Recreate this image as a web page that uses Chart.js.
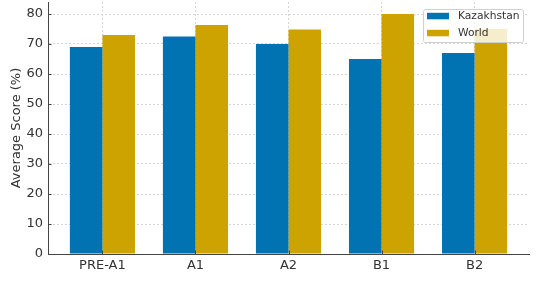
<!DOCTYPE html>
<html lang="en">
<head>
    <meta charset="UTF-8">
    <title>Average Score by Level</title>
    <script src="https://cdn.jsdelivr.net/npm/chart.js"></script>
    <style>
        html, body { margin: 0; padding: 0; background: #fff; }
        #wrap { width: 553px; height: 295px; }
    </style>
</head>
<body>
    <div id="wrap"><canvas id="scoreChart" width="553" height="295"></canvas></div>

    <script>
        // Data
        const levels = ['PRE-A1', 'A1', 'A2', 'B1', 'B2'];
        const kazakhstan = [69, 72.5, 70, 65, 67];
        const world = [73, 76.3, 74.8, 80, 75];
        const yTicks = [0, 10, 20, 30, 40, 50, 60, 70, 80];

        const FONT = 'DejaVu Sans';
        const BLUE = '#0173b2';
        const GOLD = '#cca300';

        // bars sit on a linear x scale so the side margins match the original
        function toPoints(values) {
            return values.map((v, i) => ({ x: i, y: v }));
        }

        // legend drawn inside the plot with a translucent box
        const innerLegend = {
            id: 'innerLegend',
            afterDatasetsDraw(chart) {
                const ctx = chart.ctx;
                const area = chart.chartArea;
                const boxW = 100, boxH = 33;
                const x0 = area.right - boxW - 6, y0 = area.top + 7;
                ctx.save();
                ctx.fillStyle = 'rgba(255,255,255,0.8)';
                ctx.strokeStyle = '#d0d0d0';
                ctx.lineWidth = 1;
                ctx.beginPath();
                ctx.roundRect(x0 + 0.5, y0 + 0.5, boxW, boxH, 2);
                ctx.fill();
                ctx.stroke();
                ctx.font = '10.7px "' + FONT + '"';
                ctx.textBaseline = 'middle';
                chart.data.datasets.forEach((ds, i) => {
                    const cy = y0 + 6.8 + i * 17;
                    ctx.fillStyle = ds.backgroundColor;
                    ctx.fillRect(x0 + 4, cy - 3, 22, 6.5);
                    ctx.fillStyle = '#333';
                    ctx.fillText(ds.label, x0 + 35, cy + 0.5);
                });
                ctx.restore();
            }
        };

        // small inward tick marks like the original axes
        const innerTicks = {
            id: 'innerTicks',
            afterDraw(chart) {
                const ctx = chart.ctx;
                const xs = chart.scales.x, ys = chart.scales.y;
                ctx.save();
                ctx.strokeStyle = '#444';
                ctx.lineWidth = 1;
                ctx.beginPath();
                xs.ticks.forEach(t => {
                    const px = Math.round(xs.getPixelForValue(t.value)) + 0.5;
                    ctx.moveTo(px, ys.bottom);
                    ctx.lineTo(px, ys.bottom - 3.5);
                });
                ys.ticks.forEach(t => {
                    const py = Math.round(ys.getPixelForValue(t.value)) + 0.5;
                    ctx.moveTo(xs.left, py);
                    ctx.lineTo(xs.left + 3.5, py);
                });
                ctx.stroke();
                ctx.restore();
            }
        };

        const ctx = document.getElementById('scoreChart').getContext('2d');
        new Chart(ctx, {
            type: 'bar',
            data: {
                datasets: [
                    { label: 'Kazakhstan', data: toPoints(kazakhstan), backgroundColor: BLUE },
                    { label: 'World', data: toPoints(world), backgroundColor: GOLD }
                ]
            },
            options: {
                responsive: false,
                animation: false,
                devicePixelRatio: 1,
                layout: { padding: { left: 0, right: 24, top: 2, bottom: 0 } },
                datasets: { bar: { categoryPercentage: 0.7, barPercentage: 1.0 } },
                plugins: {
                    legend: { display: false },
                    tooltip: { enabled: false }
                },
                scales: {
                    x: {
                        type: 'linear',
                        min: -0.585,
                        max: 4.585,
                        offset: false,
                        afterBuildTicks: s => { s.ticks = levels.map((_, i) => ({ value: i })); },
                        afterFit: s => {
                            s.height = 41;
                            s.paddingLeft = 0;
                            s.paddingRight = 0;
                        },
                        ticks: {
                            callback: v => levels[v],
                            color: '#333',
                            padding: 4,
                            font: { family: FONT, size: 13 },
                            maxRotation: 0
                        },
                        grid: {
                            offset: false,
                            color: '#d4d4d4',
                            tickLength: 0,
                            drawTicks: false
                        },
                        border: { display: true, color: '#444', width: 1, dash: [2, 2] }
                    },
                    y: {
                        min: 0,
                        max: 84,
                        afterBuildTicks: s => { s.ticks = yTicks.map(v => ({ value: v })); },
                        afterFit: s => {
                            s.width = 48;
                            s.paddingTop = 0;
                            s.paddingBottom = 0;
                        },
                        ticks: {
                            color: '#333',
                            padding: 5,
                            font: { family: FONT, size: 13 }
                        },
                        grid: {
                            color: '#d4d4d4',
                            drawTicks: false,
                            tickLength: 0
                        },
                        border: { display: true, color: '#444', width: 1, dash: [2, 2] },
                        title: {
                            display: true,
                            text: 'Average Score (%)',
                            color: '#333',
                            font: { family: FONT, size: 13 },
                            padding: { top: 9, bottom: 0 }
                        }
                    }
                }
            },
            plugins: [innerLegend, innerTicks]
        });
    </script>
</body>
</html>
